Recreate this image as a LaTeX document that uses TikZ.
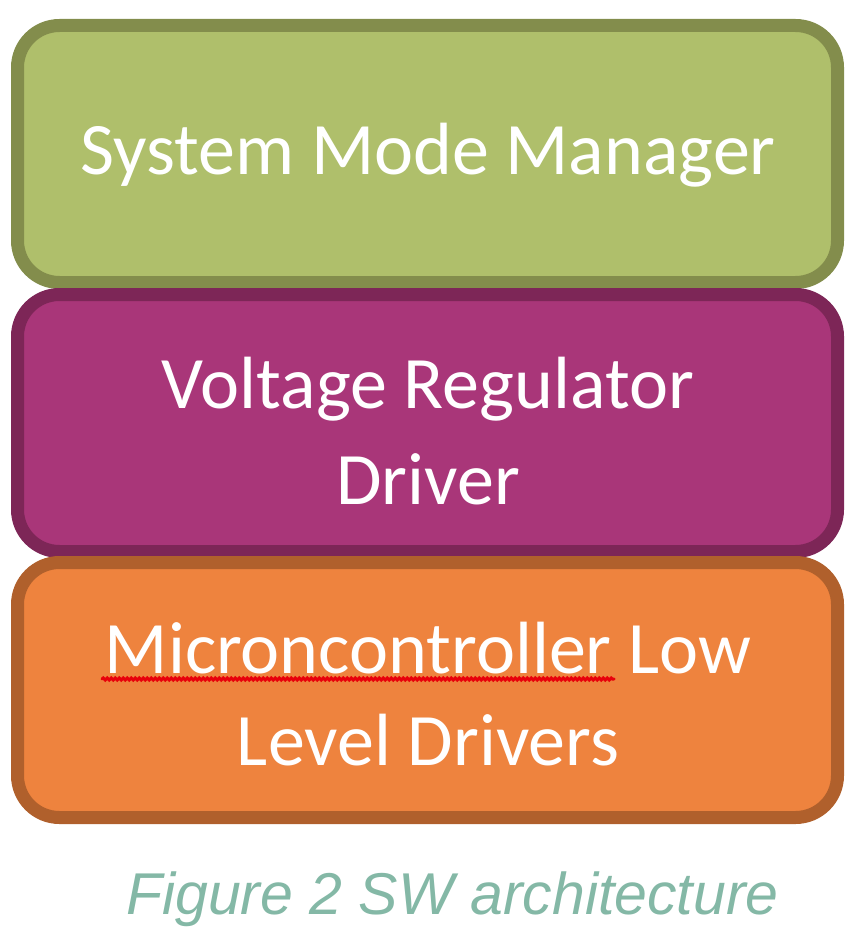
\documentclass[tikz,border=0pt]{standalone}
\usepackage{fontspec}
\setmainfont{Carlito}
\newfontfamily\capfont{Liberation Sans}
\usetikzlibrary{decorations.pathmorphing}
\definecolor{gfill}{HTML}{AFBF6B}
\definecolor{gline}{HTML}{838D4C}
\definecolor{pfill}{HTML}{A93679}
\definecolor{pline}{HTML}{7D2657}
\definecolor{ofill}{HTML}{EE833E}
\definecolor{oline}{HTML}{B0602C}
\definecolor{capcol}{HTML}{84B8A6}
\definecolor{squig}{HTML}{E8000B}
\tikzset{
  layer/.style={line width=13pt, rounded corners=42pt},
  lbl/.style={text=white, font=\fontsize{74}{90}\selectfont, anchor=base, inner sep=0pt},
  captext/.style={text=capcol, font=\capfont\itshape\fontsize{59}{70}\selectfont, anchor=base west, inner sep=0pt}
}
\begin{document}
\begin{tikzpicture}[x=1pt,y=-1pt]
\useasboundingbox (0,0) rectangle (865,939);
\draw[layer, fill=gfill, draw=gline] (17.5,25.5) rectangle (837.5,282.5);
\draw[layer, fill=pfill, draw=pline] (17.5,294.5) rectangle (837.5,551.5);
\draw[layer, fill=ofill, draw=oline] (17.5,562.5) rectangle (837.5,817.5);
\node[lbl] (t1) at (428,174) {System Mode Manager};
\node[lbl] (t2a) at (428,408) {Voltage Regulator};
\node[lbl] (t2b) at (428,504) {Driver};
\node[lbl] (t3a) at (428,673) {Microncontroller Low};
\node[lbl] (t3b) at (428,765) {Level Drivers};
\draw[squig, line width=3pt, line cap=round, decorate, decoration={snake, amplitude=1pt, segment length=4pt}] (102,679) -- (614,679);
\node[captext] (c) at (126,914) {Figure 2 SW architecture};
\end{tikzpicture}
\end{document}
